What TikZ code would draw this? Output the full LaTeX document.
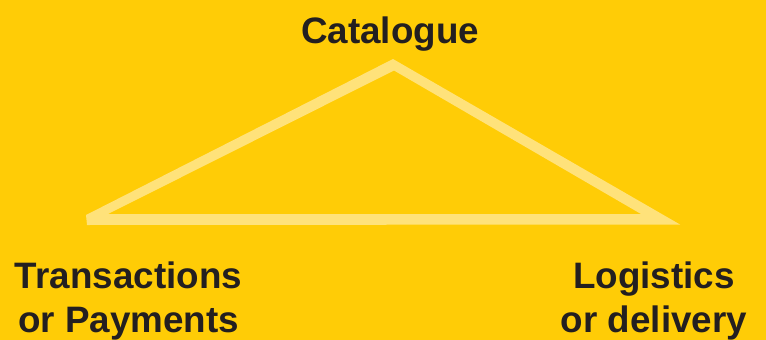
\documentclass[tikz,border=0pt]{standalone}
\usepackage{fontspec}
\setmainfont{Liberation Sans}
\definecolor{bgyellow}{RGB}{255,204,6}
\definecolor{lightyellow}{RGB}{255,226,122}
\definecolor{textdark}{RGB}{35,31,32}
\tikzset{
  label/.style={text=textdark, font=\bfseries\fontsize{36.8}{44}\selectfont, align=center, inner sep=0pt, anchor=base},
}
\begin{document}
\begin{tikzpicture}[x=1pt,y=-1pt]
  \fill[bgyellow] (0,0) rectangle (766,340);
  \useasboundingbox (0,0) rectangle (766,340);
  % triangle as a band shape
  \fill[lightyellow, even odd rule]
    (393,59) -- (680,224.5) -- (87,225) -- (86,215) -- cycle
    (394,70.5) -- (641,214) -- (108,214) -- cycle;
  \coordinate (apex) at (393,59);
  \node[label] (cat) at (390,43) {Catalogue};
  \node[label] (trans) at (128.5,332) {Transactions\\or Payments};
  \node[label] (logi) at (654,332) {Logistics\\or delivery};
\end{tikzpicture}
\end{document}
